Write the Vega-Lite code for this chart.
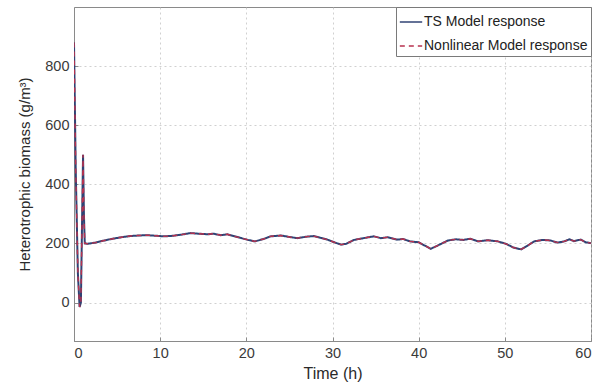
{
  "$schema": "https://vega.github.io/schema/vega-lite/v6.json",
  "width": 517,
  "height": 334,
  "autosize": {"type": "none"},
  "padding": {"left": 74, "top": 7, "right": 4, "bottom": 49},
  "background": "white",
  "config": {
    "font": "Liberation Sans",
    "view": {"stroke": "#8a8a8a", "strokeWidth": 1},
    "axis": {
      "labelFont": "Liberation Sans",
      "titleFont": "Liberation Sans",
      "labelFontSize": 14.5,
      "titleFontSize": 15,
      "labelColor": "#3a3a3a",
      "titleColor": "#2a2a2a",
      "titleFontWeight": "normal",
      "domainColor": "#8a8a8a",
      "tickColor": "#8a8a8a",
      "tickSize": -4,
      "grid": true,
      "gridColor": "#c4c4c4",
      "gridDash": [2, 3],
      "gridWidth": 0.8
    },
    "legend": {
      "labelFont": "Liberation Sans",
      "labelFontSize": 14,
      "labelColor": "#222222",
      "labelLimit": 300
    }
  },
  "data": {
    "values": [
      {"t": 0, "v": 880}, {"t": 0.2, "v": 450}, {"t": 0.45, "v": 100}, {"t": 0.65, "v": -15},
      {"t": 0.8, "v": 0}, {"t": 1.05, "v": 500}, {"t": 1.15, "v": 300}, {"t": 1.25, "v": 200},
      {"t": 1.6, "v": 199}, {"t": 2.5, "v": 203}, {"t": 3.5, "v": 210}, {"t": 4.5, "v": 216},
      {"t": 5.5, "v": 221}, {"t": 6.5, "v": 225}, {"t": 7.5, "v": 227}, {"t": 8.5, "v": 228},
      {"t": 9.5, "v": 226}, {"t": 10.5, "v": 224}, {"t": 11.5, "v": 226}, {"t": 12.5, "v": 230},
      {"t": 13.5, "v": 235}, {"t": 14.5, "v": 233}, {"t": 15.5, "v": 231}, {"t": 16.2, "v": 233},
      {"t": 17, "v": 228}, {"t": 17.8, "v": 231}, {"t": 18.5, "v": 225}, {"t": 19.3, "v": 219},
      {"t": 20.2, "v": 212}, {"t": 21, "v": 207}, {"t": 22, "v": 215}, {"t": 22.8, "v": 224},
      {"t": 24, "v": 227}, {"t": 25, "v": 222}, {"t": 25.9, "v": 218}, {"t": 27, "v": 223},
      {"t": 27.8, "v": 225}, {"t": 28.6, "v": 219}, {"t": 29.4, "v": 213}, {"t": 30.3, "v": 203},
      {"t": 31, "v": 196}, {"t": 31.6, "v": 199}, {"t": 32.5, "v": 212}, {"t": 33.6, "v": 218},
      {"t": 34.8, "v": 224}, {"t": 35.6, "v": 218}, {"t": 36.4, "v": 221}, {"t": 37.5, "v": 213},
      {"t": 38.2, "v": 215}, {"t": 39, "v": 207}, {"t": 40, "v": 204}, {"t": 40.7, "v": 193},
      {"t": 41.4, "v": 182}, {"t": 42, "v": 190}, {"t": 43.4, "v": 210}, {"t": 44.3, "v": 214},
      {"t": 45.2, "v": 212}, {"t": 46, "v": 216}, {"t": 46.9, "v": 207}, {"t": 48, "v": 211},
      {"t": 49.2, "v": 207}, {"t": 50.2, "v": 198}, {"t": 51, "v": 186}, {"t": 51.9, "v": 180},
      {"t": 52.6, "v": 192}, {"t": 53.4, "v": 207}, {"t": 54.4, "v": 212}, {"t": 55.3, "v": 210},
      {"t": 56.1, "v": 203}, {"t": 56.9, "v": 207}, {"t": 57.5, "v": 214}, {"t": 58, "v": 208},
      {"t": 58.8, "v": 213}, {"t": 59.4, "v": 204}, {"t": 60, "v": 201}
    ]
  },
  "encoding": {
    "x": {
      "field": "t",
      "type": "quantitative",
      "scale": {"domain": [0, 60], "nice": false},
      "axis": {"values": [0, 10, 20, 30, 40, 50, 60], "title": "Time (h)", "titleFontSize": 16, "titlePadding": 6, "labelPadding": 9}
    },
    "y": {
      "field": "v",
      "type": "quantitative",
      "scale": {"domain": [-130, 1000], "nice": false, "zero": false},
      "axis": {"values": [0, 200, 400, 600, 800], "title": "Heterotrophic biomass (g/m³)", "titlePadding": 12, "labelPadding": 9}
    }
  },
  "layer": [
    {
      "mark": {"type": "line", "strokeWidth": 2, "clip": true},
      "encoding": {
        "color": {
          "datum": "TS Model response",
          "scale": {"domain": ["TS Model response", "Nonlinear Model response"], "range": ["#2f4374", "#b8324f"]},
          "legend": {
            "title": null,
            "orient": "top-right",
            "offset": 0,
            "fillColor": "white",
            "strokeColor": "#7a7a7a",
            "padding": 3,
            "symbolType": "stroke",
            "symbolSize": 500,
            "symbolStrokeWidth": 1.6,
            "rowPadding": 5,
            "labelOffset": 1
          }
        },
        "strokeDash": {
          "datum": "TS Model response",
          "scale": {"domain": ["TS Model response", "Nonlinear Model response"], "range": [[1, 0], [5, 4]]},
          "legend": null
        }
      }
    },
    {
      "mark": {"type": "line", "strokeWidth": 1.4, "clip": true},
      "encoding": {
        "color": {"datum": "Nonlinear Model response"},
        "strokeDash": {"datum": "Nonlinear Model response"}
      }
    }
  ]
}
